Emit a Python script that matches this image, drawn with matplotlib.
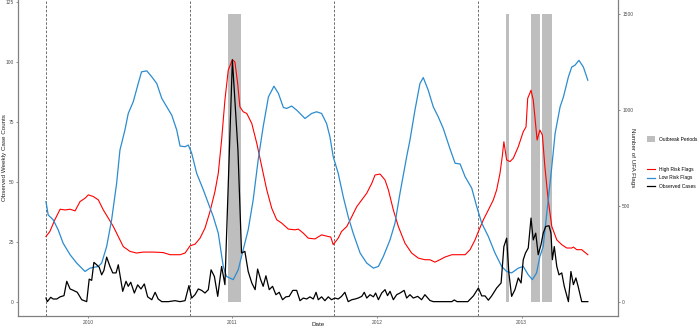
import matplotlib
matplotlib.use("Agg")
import matplotlib.pyplot as plt
from matplotlib.patches import Patch
from matplotlib.lines import Line2D
import matplotlib.dates as mdates
import numpy as np
import pandas as pd

plt.rcParams['font.family'] = ['Liberation Sans', 'DejaVu Sans']

# x values are weeks since the first season start, y values on the case-count scale
season_start = pd.Timestamp("2009-09-17")
flag_scale = 12.5  # flags = cases * 12.5 (secondary axis)

high_wk = [0, 1.4, 3.2, 5.1, 6.9, 8.7, 10.5, 12.3, 14.1, 15.3,
           17.1, 18.9, 20.7, 22.5, 24.3, 26.1, 27.9, 30.3, 32.7, 35.1,
           38.7, 42.3, 44.8, 48.4, 50.2, 52.0, 53.8, 55.6, 57.4, 59.2,
           61.0, 62.2, 63.4, 64.6, 65.8, 67.3, 68.2, 69.2, 70.0, 71.2,
           72.5, 74.3, 76.1, 77.9, 79.7, 81.5, 83.3, 85.1, 87.5, 89.9,
           91.1, 92.9, 94.7, 97.1, 99.5, 101.9, 102.8, 103.7, 105.5, 106.7,
           108.6, 110.4, 112.2, 114.0, 115.8, 117.6, 118.8, 120.6, 122.4, 123.6,
           125.4, 127.2, 129.6, 132.0, 134.4, 136.8, 138.6, 140.4, 142.2, 144.0,
           146.5, 148.8, 151.3, 153.1, 154.9, 156.1, 157.9, 159.7, 161.5, 162.7,
           163.9, 164.7, 165.3, 166.3, 167.5, 168.7, 170.5, 172.3, 173.3, 173.9,
           175.1, 175.9, 176.5, 177.3, 178.3, 179.2, 180.1, 181.3, 182.6, 184.4,
           186.2, 188.0, 189.8, 190.4, 191.6, 193.4, 195.6]
high_val = [27.2, 29.3, 34.2, 38.6, 38.3, 38.6, 37.9, 41.8, 43.2, 44.6,
            43.9, 42.5, 38.3, 34.9, 31.4, 27.2, 23.0, 21.0, 20.3, 20.7,
            20.7, 20.5, 19.6, 19.6, 20.3, 23.3, 24.0, 26.5, 30.7, 37.6,
            46.0, 53.6, 67.5, 84.2, 96.7, 101.1, 100.1, 91.1, 81.4, 79.3,
            78.6, 74.4, 66.1, 56.4, 46.7, 39.0, 34.2, 32.8, 30.3, 30.0,
            30.3, 28.6, 26.5, 26.2, 27.9, 27.2, 27.0, 23.8, 26.5, 29.3,
            31.4, 35.5, 39.7, 42.5, 45.3, 49.4, 52.9, 53.3, 50.8, 46.7,
            38.3, 31.4, 24.4, 20.3, 18.2, 17.5, 17.5, 16.5, 17.5, 18.6,
            19.6, 19.6, 19.6, 21.7, 25.8, 29.3, 34.2, 38.3, 42.5, 46.7,
            53.6, 60.5, 66.8, 59.2, 58.5, 59.9, 64.7, 71.0, 73.0, 84.9,
            88.3, 84.2, 77.2, 67.5, 71.7, 69.6, 56.4, 42.5, 31.4, 25.8,
            23.8, 22.4, 22.4, 22.8, 21.7, 21.7, 19.6]

low_wk = [0, 0.8, 2.6, 4.4, 6.2, 8.7, 11.1, 14.1, 15.9, 18.9,
          20.1, 21.9, 23.7, 25.5, 26.7, 28.5, 29.7, 31.5, 33.3, 34.5,
          36.4, 38.2, 40.0, 41.8, 43.6, 45.4, 47.2, 48.4, 50.2, 51.4,
          52.6, 54.4, 56.8, 58.6, 60.4, 62.2, 64.0, 65.2, 67.6, 69.4,
          71.2, 73.0, 74.8, 76.6, 78.4, 80.3, 82.3, 83.9, 85.7, 86.9,
          88.7, 90.5, 93.5, 95.9, 97.7, 99.5, 101.3, 102.5, 103.7, 105.5,
          107.3, 109.1, 110.9, 113.4, 115.8, 118.2, 120.0, 121.8, 124.2, 126.0,
          127.8, 130.2, 131.4, 133.2, 135.0, 136.2, 138.0, 139.8, 141.6, 143.4,
          145.8, 147.7, 149.5, 151.3, 153.7, 155.5, 157.3, 159.7, 162.1, 164.5,
          166.3, 168.1, 170.5, 172.3, 174.1, 175.6, 177.1, 178.3, 179.5, 180.8,
          182.6, 183.8, 185.6, 186.8, 188.6, 189.8, 191.0, 192.4, 194.0, 195.6]
low_val = [41.8, 36.2, 34.2, 30.0, 24.4, 19.6, 16.1, 12.6, 14.0, 14.7,
           16.1, 23.0, 34.2, 49.4, 63.3, 71.7, 78.6, 83.5, 91.1, 96.0,
           96.4, 93.9, 91.1, 84.9, 81.4, 77.9, 71.7, 65.0, 64.7, 65.4,
           62.0, 53.6, 46.7, 41.1, 35.5, 28.6, 14.7, 10.5, 9.2, 13.3,
           21.7, 30.0, 42.5, 59.2, 73.0, 85.5, 90.0, 87.0, 81.1, 80.7,
           81.7, 80.0, 76.5, 78.6, 79.3, 78.6, 74.4, 68.9, 60.5, 53.6,
           43.9, 35.5, 28.6, 20.3, 16.1, 14.0, 14.7, 18.9, 25.8, 32.8,
           45.3, 60.5, 67.5, 80.0, 91.1, 93.6, 88.3, 81.4, 77.2, 72.4,
           64.0, 57.8, 57.5, 52.2, 47.4, 39.7, 32.8, 27.2, 20.3, 14.7,
           12.6, 12.0, 14.0, 14.7, 11.2, 9.2, 12.0, 18.9, 23.0, 37.0,
           56.4, 70.3, 81.4, 85.5, 93.9, 98.0, 98.8, 100.8, 98.0, 92.5]

obs_wk = [0, 0.5, 1.7, 2.6, 3.9, 5.1, 6.5, 7.5, 8.7, 9.9,
          11.3, 12.9, 14.7, 15.6, 16.5, 17.3, 18.3, 19.2, 20.1, 20.9,
          21.9, 23.1, 24.1, 25.3, 26.1, 27.7, 28.9, 29.7, 30.6, 31.9,
          33.1, 34.3, 35.5, 36.7, 38.2, 39.4, 40.5, 41.8, 44.2, 46.6,
          48.4, 50.2, 51.6, 52.6, 53.8, 55.0, 56.2, 57.4, 58.6, 59.6,
          60.8, 62.0, 63.4, 64.6, 67.3, 69.3, 70.6, 71.8, 73.0, 74.3,
          75.5, 76.4, 77.5, 78.4, 79.4, 80.6, 81.8, 83.0, 84.2, 85.4,
          86.6, 87.8, 89.1, 90.5, 91.7, 92.9, 94.1, 95.3, 96.5, 97.5,
          98.3, 99.5, 100.7, 101.9, 103.1, 104.3, 105.5, 106.7, 107.9, 109.1,
          110.4, 111.6, 112.7, 114.0, 114.9, 115.8, 117.0, 118.2, 119.0, 120.0,
          121.2, 122.4, 123.3, 124.2, 125.4, 126.6, 127.8, 129.3, 130.2, 131.4,
          132.6, 134.2, 135.6, 136.8, 138.6, 139.8, 146.5, 147.4, 148.4, 152.3,
          154.3, 156.1, 157.3, 158.5, 159.7, 160.9, 162.7, 164.3, 165.3, 166.3,
          167.1, 168.1, 169.3, 170.5, 171.5, 172.3, 173.1, 174.1, 175.1, 175.9,
          176.8, 177.7, 178.7, 179.5, 180.4, 181.6, 182.3, 182.8, 183.5, 184.4,
          185.2, 186.2, 187.1, 188.6, 189.5, 190.4, 191.3, 192.1, 193.4, 195.6]
obs_val = [1.5, 0, 1.8, 1.1, 1.1, 2.0, 2.5, 8.5, 5.3, 4.7,
           3.9, 0.8, 0, 9.4, 8.9, 16.4, 15.4, 14.4, 11.2, 13.0,
           18.6, 14.7, 12.0, 12.0, 15.4, 4.3, 8.5, 6.4, 8.1, 3.6,
           7.0, 5.3, 7.4, 2.0, 0.8, 3.9, 1.1, 0, 0, 0.4,
           0, 0.4, 6.7, 1.5, 2.9, 5.3, 4.7, 3.6, 5.0, 13.3,
           10.5, 2.2, 14.7, 7.1, 101.0, 63.3, 20.3, 21.0, 12.6, 7.8,
           5.0, 13.6, 9.2, 6.4, 10.8, 5.0, 6.4, 2.9, 3.9, 0.8,
           2.0, 2.2, 4.7, 4.7, 0.4, 1.5, 1.1, 2.0, 1.1, 3.9,
           0.8, 2.0, 0.4, 2.0, 0.8, 1.5, 1.1, 2.2, 3.9, 0,
           0.8, 1.1, 1.5, 2.2, 3.9, 1.5, 2.9, 2.0, 3.6, 0.8,
           3.6, 5.0, 2.5, 4.3, 0.8, 2.9, 3.6, 4.7, 1.5, 2.9,
           1.5, 2.2, 0.8, 2.9, 0.5, 0, 0, 0.7, 0, 0,
           2.4, 5.7, 2.4, 2.4, 0.6, 2.4, 5.7, 7.8, 23.0, 26.5,
           12.0, 2.2, 5.0, 9.9, 7.8, 17.5, 20.3, 22.4, 34.9, 25.8,
           28.6, 19.6, 23.8, 28.6, 31.4, 31.7, 28.6, 17.5, 23.0, 14.7,
           11.2, 12.0, 6.4, 0, 12.6, 7.1, 9.9, 6.4, 0, 0]

outbreak_start = [65.6, 166.2, 175.2, 179.2]
outbreak_end = [70.4, 167.3, 178.2, 182.6]
outbreak_top = 120

season_lines = [0, 52, 104, 156]


def to_date(wk):
    return season_start + pd.to_timedelta(np.asarray(wk, dtype=float) * 7, unit="D")


fig = plt.figure(figsize=(6.98, 3.31), dpi=100)
ax = fig.add_axes([18 / 698, 15 / 331, 600 / 698, 316 / 331])

for s, e in zip(outbreak_start, outbreak_end):
    ax.fill_between(to_date([s, e]), 0, outbreak_top, color='#bebebe', lw=0, zorder=1)

for w in to_date(season_lines):
    ax.axvline(w, color='#555555', lw=0.6, dashes=(3, 2), zorder=2)

ax.plot(to_date(high_wk), high_val, color='#ff0000', lw=0.8, zorder=3)
ax.plot(to_date(low_wk), low_val, color='#2b8cd0', lw=0.9, zorder=3)
ax.plot(to_date(obs_wk), obs_val, color='black', lw=0.9, zorder=4)

ax.set_xlim(to_date([-10.1, 206.5]))
ax.set_ylim(-6, 126)
ax.set_yticks([0, 25, 50, 75, 100, 125])
ax.xaxis.set_major_locator(mdates.YearLocator())
ax.xaxis.set_major_formatter(mdates.DateFormatter('%Y'))

grey_axis = '#808080'
for side in ['top', 'right']:
    ax.spines[side].set_visible(False)
for side in ['left', 'bottom']:
    ax.spines[side].set_color(grey_axis)
    ax.spines[side].set_linewidth(0.9)
ax.tick_params(labelsize=3.5, colors=grey_axis, labelcolor='#4d4d4d',
               length=1.5, width=0.6, pad=1.5)

sec = ax.secondary_yaxis('right', functions=(lambda y: y * flag_scale,
                                             lambda y: y / flag_scale))
sec.set_yticks([0, 500, 1000, 1500])
sec.spines['right'].set_color(grey_axis)
sec.spines['right'].set_linewidth(0.9)
sec.tick_params(labelsize=3.5, colors=grey_axis, labelcolor='#4d4d4d',
                length=1.5, width=0.6, pad=1.5)

# axis titles
fig.text(633 / 698, 1 - 158 / 331, 'Number of UFA Flags', fontsize=4.5, rotation=270,
         ha='center', va='center', color='#222222')
fig.text(5 / 698, 1 - 158 / 331, 'Observed Weekly Case Counts', fontsize=4.5, rotation=90,
         ha='center', va='center', color='#222222')
fig.text(318 / 698, 1 - 325 / 331, 'Date', fontsize=4.5,
         ha='center', va='center', color='#222222')

leg1 = ax.legend(handles=[Patch(facecolor='#bebebe', edgecolor='none')],
                 labels=['Outbreak Periods'], loc='center left',
                 bbox_to_anchor=(645 / 698, 1 - 139 / 331), bbox_transform=fig.transFigure,
                 frameon=False, fontsize=3.5, handlelength=1.6, handleheight=1.6,
                 handletextpad=0.8, borderpad=0)
ax.add_artist(leg1)
line_handles = [Line2D([], [], color='#ff0000', lw=0.8),
                Line2D([], [], color='#2b8cd0', lw=0.9),
                Line2D([], [], color='black', lw=0.9)]
ax.legend(handles=line_handles, labels=['High Risk Flags', 'Low Risk Flags', 'Observed Cases'],
          loc='center left', bbox_to_anchor=(645 / 698, 1 - 178 / 331),
          bbox_transform=fig.transFigure, frameon=False, fontsize=3.5,
          handlelength=1.5, handletextpad=0.8, labelspacing=0.7, borderpad=0)

fig.savefig('out.png', dpi=100)
